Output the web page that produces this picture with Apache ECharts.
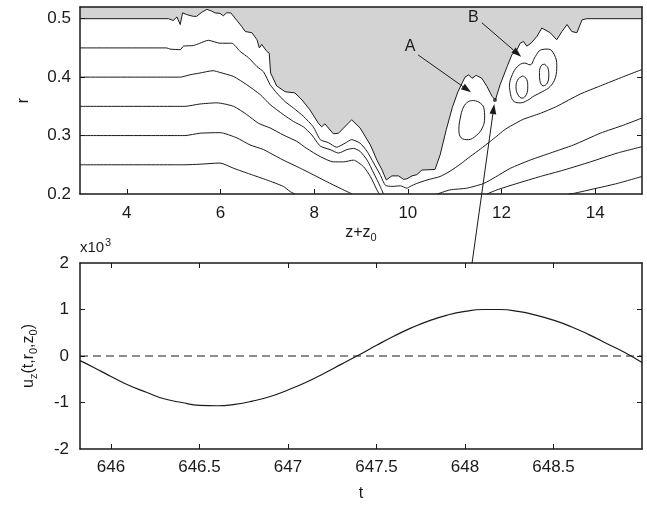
<!DOCTYPE html>
<html>
<head>
<meta charset="utf-8">
<script src="https://cdn.jsdelivr.net/npm/echarts@6/dist/echarts.min.js"></script>
<style>
  html, body { margin: 0; padding: 0; background: #fff; }
  #chart { width: 647px; height: 505px; }
</style>
</head>
<body>
<div id="chart"></div>
<script>
const FONT = "'Liberation Sans', Arial, Helvetica, sans-serif";
const INK = "#1a1a1a";
const GREY = "#d3d3d3";

// ---- top panel: contours over (z+z0, r)
const zTicks = [4, 6, 8, 10, 12, 14];
const rTicks = [0.2, 0.3, 0.4, 0.5];

// edge of the grey zone (filled up to the top of the panel)
const edge = [
  [3, 0.5], [4.89, 0.5], [4.99, 0.497], [5.07, 0.503], [5.14, 0.49], [5.19, 0.51], [5.28, 0.507],
  [5.42, 0.504], [5.49, 0.504], [5.6, 0.511], [5.71, 0.516], [5.81, 0.513], [5.88, 0.51], [5.99, 0.509],
  [6.06, 0.505], [6.13, 0.51], [6.22, 0.51], [6.35, 0.497], [6.45, 0.487], [6.53, 0.478], [6.67, 0.476],
  [6.78, 0.464], [6.83, 0.45], [6.88, 0.456], [6.92, 0.453], [6.99, 0.444], [7.04, 0.441], [7.07, 0.407],
  [7.2, 0.385], [7.38, 0.375], [7.59, 0.373], [7.74, 0.361], [7.91, 0.344], [8.09, 0.321], [8.16, 0.315],
  [8.23, 0.32], [8.41, 0.303], [8.52, 0.304], [8.8, 0.327], [8.98, 0.313], [9.2, 0.284], [9.34, 0.258],
  [9.45, 0.241], [9.54, 0.224], [9.66, 0.231], [9.8, 0.231], [9.91, 0.225], [9.98, 0.226], [10.09, 0.231],
  [10.19, 0.233], [10.3, 0.241], [10.58, 0.242], [10.69, 0.267], [10.82, 0.31], [10.95, 0.348],
  [11.07, 0.375], [11.22, 0.4], [11.3, 0.404], [11.37, 0.398], [11.46, 0.403], [11.58, 0.398],
  [11.69, 0.384], [11.8, 0.367], [11.87, 0.361], [11.97, 0.387], [12.12, 0.418], [12.22, 0.438],
  [12.33, 0.447], [12.4, 0.458], [12.47, 0.461], [12.54, 0.453], [12.63, 0.458], [12.76, 0.47],
  [12.86, 0.484], [12.93, 0.481], [13.04, 0.476], [13.18, 0.464], [13.29, 0.478], [13.4, 0.49],
  [13.5, 0.478], [13.61, 0.476], [13.72, 0.498], [13.82, 0.5], [15, 0.5]
];

const c45 = [
  [3, 0.45], [4.85, 0.45], [4.92, 0.448], [5.14, 0.447], [5.21, 0.453], [5.42, 0.454], [5.56, 0.458],
  [5.74, 0.463], [5.99, 0.458], [6.24, 0.458], [6.42, 0.444], [6.6, 0.433], [6.78, 0.418], [6.92, 0.409],
  [7.06, 0.387], [7.2, 0.373], [7.38, 0.358], [7.56, 0.347], [7.77, 0.333], [7.98, 0.315], [8.13, 0.293],
  [8.3, 0.288], [8.48, 0.28], [8.66, 0.287], [8.8, 0.293], [8.98, 0.287], [9.13, 0.273], [9.27, 0.253],
  [9.41, 0.233], [9.52, 0.215], [9.66, 0.213], [9.84, 0.214], [9.98, 0.21], [10.05, 0.213], [10.19, 0.218],
  [10.41, 0.224], [10.69, 0.23], [10.9, 0.239], [11.12, 0.251], [11.33, 0.264], [11.55, 0.277],
  [11.76, 0.29], [11.9, 0.299], [12.05, 0.309], [12.19, 0.316], [12.47, 0.328], [12.83, 0.338],
  [13.18, 0.35], [13.68, 0.371], [14.11, 0.385], [14.61, 0.401], [15, 0.413]
];
const c40 = [
  [3, 0.4], [4.71, 0.4], [5.14, 0.4], [5.35, 0.404], [5.56, 0.407], [5.84, 0.411], [5.99, 0.408],
  [6.28, 0.401], [6.56, 0.387], [6.85, 0.37], [7.06, 0.353], [7.34, 0.336], [7.56, 0.324], [7.77, 0.315],
  [7.95, 0.301], [8.13, 0.282], [8.34, 0.276], [8.52, 0.27], [8.7, 0.276], [8.84, 0.278], [8.98, 0.273],
  [9.13, 0.258], [9.27, 0.236], [9.41, 0.213], [9.48, 0.2]
];
const c40b = [
  [10.63, 0.2], [10.9, 0.207], [11.26, 0.21], [11.62, 0.218], [11.87, 0.229], [12.19, 0.244],
  [12.61, 0.258], [13.04, 0.27], [13.54, 0.284], [14.11, 0.304], [14.61, 0.318], [15, 0.33]
];
const c35 = [
  [3, 0.35], [5.24, 0.35], [5.56, 0.354], [5.92, 0.356], [6.28, 0.35], [6.56, 0.336], [6.81, 0.321],
  [7.06, 0.313], [7.34, 0.301], [7.63, 0.29], [7.84, 0.278], [8.13, 0.264], [8.41, 0.255], [8.63, 0.255],
  [8.84, 0.258], [9.05, 0.247], [9.2, 0.23], [9.34, 0.207], [9.39, 0.2]
];
const c35b = [
  [11.69, 0.2], [11.9, 0.207], [12.33, 0.218], [12.83, 0.23], [13.33, 0.241], [13.9, 0.255],
  [14.47, 0.27], [15, 0.281]
];
const c30 = [
  [3, 0.3], [5.24, 0.3], [5.56, 0.304], [5.99, 0.305], [6.35, 0.296], [6.63, 0.284], [6.92, 0.276],
  [7.06, 0.27], [7.34, 0.258], [7.63, 0.247], [7.98, 0.233], [8.27, 0.221], [8.55, 0.21], [8.81, 0.2]
];
const c30b = [[13.43, 0.2], [13.54, 0.201], [14.04, 0.21], [14.47, 0.218], [15, 0.23]];
const c25 = [
  [3, 0.25], [5.24, 0.25], [5.56, 0.251], [5.99, 0.253], [6.28, 0.244], [6.63, 0.234], [6.99, 0.224],
  [7.34, 0.213], [7.49, 0.204], [7.59, 0.2]
];

// closed contours near A and B
const loopA = [
  [11.4, 0.36], [11.52, 0.357], [11.62, 0.348], [11.64, 0.33], [11.59, 0.313], [11.46, 0.3], [11.29, 0.293],
  [11.14, 0.296], [11.09, 0.31], [11.12, 0.33], [11.19, 0.349], [11.29, 0.358], [11.4, 0.36]
];
const loopB = [
  [12.21, 0.365], [12.17, 0.385], [12.23, 0.404], [12.34, 0.418], [12.49, 0.424], [12.61, 0.421],
  [12.72, 0.435], [12.85, 0.447], [13.0, 0.448], [13.13, 0.438], [13.18, 0.42], [13.15, 0.399],
  [13.04, 0.384], [12.87, 0.375], [12.7, 0.368], [12.55, 0.36], [12.4, 0.356], [12.27, 0.358], [12.21, 0.365]
];
const loopB1 = [
  [12.46, 0.402], [12.54, 0.396], [12.56, 0.384], [12.53, 0.37], [12.44, 0.364], [12.35, 0.37],
  [12.31, 0.384], [12.36, 0.397], [12.46, 0.402]
];
const loopB2 = [
  [12.92, 0.422], [12.99, 0.416], [13.01, 0.404], [12.98, 0.39], [12.89, 0.385], [12.82, 0.394],
  [12.81, 0.408], [12.85, 0.42], [12.92, 0.422]
];

// annotations (data coords)
const probe = [11.86, 0.361];
const arrowA = [[10.22, 0.438], [11.35, 0.374]];
const arrowB = [[11.58, 0.493], [12.42, 0.435]];
const labelA = [10.05, 0.453];
const labelB = [11.40, 0.502];
const probeFrom = [648.04, 2];      // bottom panel
const probeTo = [11.845, 0.354];    // top panel

// ---- bottom panel: u_z(t) in units of 1e3
const tTicks = [646, 646.5, 647, 647.5, 648, 648.5];
const tValues = [
  645.825, 645.9, 646.0, 646.1, 646.2, 646.3, 646.4, 646.5, 646.6, 646.7, 646.8, 646.9, 647.0,
  647.1, 647.2, 647.3, 647.4, 647.5, 647.6, 647.7, 647.8, 647.9, 648.0, 648.1, 648.2, 648.3,
  648.4, 648.5, 648.6, 648.7, 648.8, 648.9, 649.0
];
const uzValues = [
  -0.10, -0.24, -0.44, -0.63, -0.78, -0.92, -1.00, -1.06, -1.07, -1.04, -0.97, -0.87, -0.73,
  -0.57, -0.38, -0.18, 0.02, 0.23, 0.43, 0.61, 0.76, 0.88, 0.96, 1.00, 1.00, 0.96,
  0.88, 0.77, 0.63, 0.46, 0.27, 0.08, -0.14
];
const zeroLine = [[645.825, 0], [649.0, 0]];

const subRich = {
  sub: { fontSize: 11, lineHeight: 12, verticalAlign: "bottom", fontFamily: FONT, color: INK }
};
const nameStyle = { fontSize: 16, lineHeight: 20, color: INK, fontFamily: FONT, rich: subRich };
const labelStyle = { fontSize: 17, color: INK, fontFamily: FONT };
const frame = { show: true, onZero: false, lineStyle: { color: INK, width: 1.5 } };
const tick = (values) => ({ show: true, inside: true, length: 5, customValues: values, lineStyle: { color: INK, width: 1 } });

function curve(data, opts) {
  return Object.assign({
    type: "line", xAxisIndex: 0, yAxisIndex: 0, data, symbol: "none", silent: true,
    lineStyle: { color: INK, width: 1 }, z: 3
  }, opts || {});
}

const option = {
  animation: false,
  backgroundColor: "#fff",
  grid: [
    { left: 80, right: 5, top: 7, height: 187 },
    { left: 80, right: 5, top: 263, height: 187 }
  ],
  xAxis: [
    {
      type: "value", gridIndex: 0, min: 3, max: 15, position: "bottom", z: 10,
      axisLine: frame, axisTick: tick(zTicks), splitLine: { show: false },
      axisLabel: Object.assign({ customValues: zTicks, margin: 11 }, labelStyle),
      name: "z+z{sub|0}", nameLocation: "middle", nameGap: 29, nameTextStyle: nameStyle
    },
    {
      type: "value", gridIndex: 0, min: 3, max: 15, position: "top", z: 10,
      axisLine: frame, axisTick: { show: false }, axisLabel: { show: false }, splitLine: { show: false }
    },
    {
      type: "value", gridIndex: 1, min: 645.825, max: 649.0, position: "bottom", z: 10,
      axisLine: frame, axisTick: tick(tTicks), splitLine: { show: false },
      axisLabel: Object.assign({ customValues: tTicks, margin: 10 }, labelStyle),
      name: "t", nameLocation: "middle", nameGap: 35, nameTextStyle: nameStyle
    },
    {
      type: "value", gridIndex: 1, min: 645.825, max: 649.0, position: "top", z: 10,
      axisLine: frame, axisTick: tick(tTicks), axisLabel: { show: false }, splitLine: { show: false }
    }
  ],
  yAxis: [
    {
      type: "value", gridIndex: 0, min: 0.2, max: 0.52, position: "left", z: 10,
      axisLine: frame, axisTick: tick([0.3, 0.4, 0.5]), splitLine: { show: false },
      axisLabel: Object.assign({ customValues: rTicks, margin: 9 }, labelStyle),
      name: "r", nameLocation: "middle", nameGap: 46, nameTextStyle: nameStyle
    },
    {
      type: "value", gridIndex: 0, min: 0.2, max: 0.52, position: "right", z: 10,
      axisLine: frame, axisTick: tick([0.3, 0.4]), axisLabel: { show: false }, splitLine: { show: false }
    },
    {
      type: "value", gridIndex: 1, min: -2, max: 2, interval: 1, position: "left", z: 10,
      axisLine: frame, axisTick: tick([-1, 0, 1]), splitLine: { show: false },
      axisLabel: Object.assign({ margin: 11 }, labelStyle),
      name: "u{sub|z}(t,r{sub|0},z{sub|0})", nameLocation: "middle", nameGap: 41, nameTextStyle: nameStyle
    },
    {
      type: "value", gridIndex: 1, min: -2, max: 2, interval: 1, position: "right", z: 10,
      axisLine: frame, axisTick: tick([-1, 0, 1]), axisLabel: { show: false }, splitLine: { show: false }
    }
  ],
  series: [
    curve(edge, { areaStyle: { origin: "end", color: GREY, opacity: 1 }, z: 2 }),
    curve(c45, { smooth: 0.2 }),
    curve(c40, { smooth: 0.2 }),
    curve(c40b, { smooth: 0.2 }),
    curve(c35, { smooth: 0.2 }),
    curve(c35b, { smooth: 0.2 }),
    curve(c30, { smooth: 0.2 }),
    curve(c30b, { smooth: 0.2 }),
    curve(c25, { smooth: 0.2 }),
    curve(loopA, { smooth: 0.4 }),
    curve(loopB, { smooth: 0.4 }),
    curve(loopB1, { smooth: 0.4 }),
    curve(loopB2, { smooth: 0.4 }),
    {
      type: "scatter", xAxisIndex: 0, yAxisIndex: 0, data: [probe], symbolSize: 4,
      itemStyle: { color: INK }, z: 4, silent: true
    },
    {
      type: "line", xAxisIndex: 2, yAxisIndex: 2, data: zeroLine, symbol: "none", silent: true,
      lineStyle: { color: INK, width: 1, type: [8, 5] }
    },
    {
      type: "line", xAxisIndex: 2, yAxisIndex: 2, symbol: "none", smooth: true, silent: true,
      data: tValues.map((t, i) => [t, uzValues[i]]),
      lineStyle: { color: INK, width: 1.2 }
    }
  ]
};

const chart = echarts.init(document.getElementById("chart"));
chart.setOption(option);

const topPx = (pt) => chart.convertToPixel({ xAxisIndex: 0, yAxisIndex: 0 }, pt);
const botPx = (pt) => chart.convertToPixel({ xAxisIndex: 2, yAxisIndex: 2 }, pt);

function arrow(p, q) {
  const dx = q[0] - p[0], dy = q[1] - p[1];
  const len = Math.hypot(dx, dy);
  const ux = dx / len, uy = dy / len;
  const hl = 10, hw = 3.4;
  const bx = q[0] - ux * hl, by = q[1] - uy * hl;
  return [
    { type: "line", z: 50, shape: { x1: p[0], y1: p[1], x2: bx, y2: by }, style: { stroke: INK, lineWidth: 1 } },
    {
      type: "polygon", z: 50,
      shape: { points: [q, [bx - uy * hw, by + ux * hw], [bx + uy * hw, by - ux * hw]] },
      style: { fill: INK }
    }
  ];
}

function label(text, pt, size) {
  return {
    type: "text", z: 50, x: pt[0], y: pt[1],
    style: { text, fontSize: size, fontFamily: FONT, fill: INK, align: "center", verticalAlign: "middle" }
  };
}

const corner = botPx([645.825, 2]);
chart.setOption({
  graphic: [
    ...arrow(topPx(arrowA[0]), topPx(arrowA[1])),
    ...arrow(topPx(arrowB[0]), topPx(arrowB[1])),
    ...arrow(botPx(probeFrom), topPx(probeTo)),
    label("A", topPx(labelA), 16),
    label("B", topPx(labelB), 16),
    {
      type: "text", z: 50, x: corner[0], y: corner[1] - 8,
      style: { text: "x10", fontSize: 15, fontFamily: FONT, fill: INK, align: "left", verticalAlign: "bottom" }
    },
    {
      type: "text", z: 50, x: corner[0] + 25, y: corner[1] - 15,
      style: { text: "3", fontSize: 11, fontFamily: FONT, fill: INK, align: "left", verticalAlign: "bottom" }
    }
  ]
});
</script>
</body>
</html>
